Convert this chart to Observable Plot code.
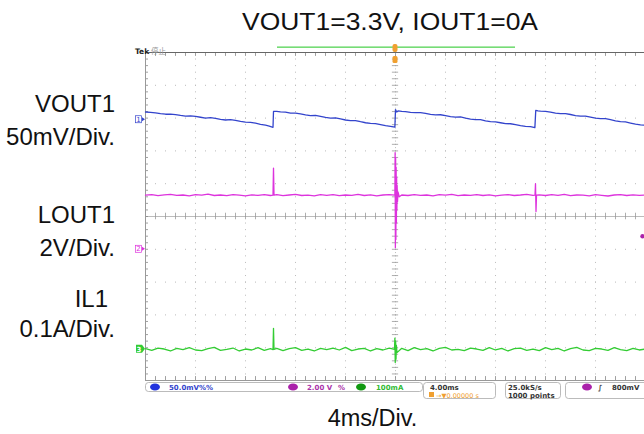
<!DOCTYPE html>
<html><head><meta charset="utf-8">
<script src="https://cdn.jsdelivr.net/npm/d3@7"></script>
<script src="https://cdn.jsdelivr.net/npm/@observablehq/plot@0.6"></script>
<style>
html,body{margin:0;padding:0;background:#fff;overflow:hidden;}
#wrap{width:644px;height:434px;overflow:hidden;position:relative;}
#wrap svg{max-width:none !important;}
</style></head><body><div id="wrap"></div>
<script>
// ---- chart text ----
const title = "VOUT1=3.3V, IOUT1=0A";
const timeLabel = "4ms/Div.";
const channelNames = ["VOUT1", "LOUT1", "IL1"];
const channelScales = ["50mV/Div.", "2V/Div.", "0.1A/Div."];
const channelIds = ["1", "2", "3"];
// channel ground marker position (divisions from centre) and units per division
const chOffset = [2.95, -1.0, -4.05];
const chPerDiv = [50, 2, 100];
const chColor = ["#3344cc", "#dd33dd", "#33cc33"];
const triggerLevel = 0.8; // V on channel 2
// ---- traces: [time ms, value] ----
const vout1 = [ // mV relative to channel marker
  [-20,11.8],[-19.6,11.2],[-19.2,10.6],[-18.8,9.4],[-18.4,8.4],[-18.0,8.6],[-17.6,7.9],[-17.2,6.6],[-16.8,5.6],
  [-16.4,5.9],[-16.0,5.0],[-15.6,3.8],[-15.2,2.6],[-14.8,3.1],[-14.4,2.0],[-14.0,0.6],[-13.6,-0.4],[-13.2,0.1],
  [-12.8,-1.0],[-12.4,-2.6],[-12.0,-3.6],[-11.6,-3.9],[-11.2,-5.2],[-10.8,-6.9],[-10.4,-8.3],[-10.1,-9.6],[-9.8,-11.6],
  [-9.76,12.6],[-9.5,12.8],[-9.2,12.0],[-8.8,11.6],[-8.4,10.1],[-8.0,10.2],[-7.6,8.9],[-7.2,7.4],[-6.8,6.4],
  [-6.4,6.6],[-6.0,5.1],[-5.6,3.6],[-5.2,2.6],[-4.8,2.9],[-4.4,1.2],[-4.0,-0.4],[-3.6,-1.5],[-3.2,-1.2],
  [-2.8,-3.0],[-2.4,-4.6],[-2.0,-5.6],[-1.6,-5.9],[-1.2,-7.4],[-0.8,-9.0],[-0.4,-10.2],[-0.05,-11.3],
  [0.0,15.5],[0.1,11.8],[0.2,13.4],[0.5,12.6],[0.8,12.5],[1.2,11.2],[1.6,10.9],[2.0,10.8],[2.4,9.7],[2.8,8.2],
  [3.2,7.4],[3.6,7.6],[4.0,6.3],[4.4,4.8],[4.8,3.9],[5.2,4.2],[5.6,2.4],[6.0,1.0],[6.4,0.1],[6.8,0.3],
  [7.2,-1.8],[7.6,-3.0],[8.0,-3.4],[8.4,-4.6],[8.8,-6.0],[9.2,-6.1],[9.6,-7.5],[10.0,-9.0],[10.4,-10.1],
  [10.8,-10.6],[11.15,-12.0],
  [11.22,14.2],[11.4,13.4],[11.6,13.0],[12.0,12.6],[12.4,11.6],[12.8,10.0],[13.2,9.2],[13.6,9.4],[14.0,8.0],
  [14.4,6.4],[14.8,5.4],[15.2,5.6],[15.6,4.1],[16.0,2.6],[16.4,1.8],[16.8,1.6],[17.2,0.3],[17.6,-1.6],
  [18.0,-3.0],[18.4,-3.4],[18.8,-5.0],[19.2,-6.6],[19.6,-7.8],[20,-8.5]
];
const lout1 = [ // V relative to channel marker
  [-20,3.30],[-19.5,3.33],[-19,3.27],[-18.5,3.32],[-18,3.35],[-17.5,3.29],[-17,3.31],[-16.5,3.26],[-16,3.33],
  [-15.5,3.30],[-15,3.36],[-14.5,3.28],[-14,3.31],[-13.5,3.27],[-13,3.34],[-12.5,3.30],[-12,3.26],[-11.5,3.32],
  [-11,3.29],[-10.5,3.34],[-10,3.28],[-9.8,3.31],[-9.76,4.95],[-9.72,3.30],[-9.5,3.33],[-9,3.27],[-8.5,3.31],
  [-8,3.35],[-7.5,3.28],[-7,3.30],[-6.5,3.26],[-6,3.33],[-5.5,3.29],[-5,3.34],[-4.5,3.27],[-4,3.31],
  [-3.5,3.29],[-3,3.35],[-2.5,3.28],[-2,3.32],[-1.5,3.26],[-1,3.31],[-0.5,3.33],[-0.05,3.30],
  [-0.03,5.9],[-0.01,0.1],[0.01,5.6],[0.03,0.6],[0.05,5.0],[0.07,1.6],[0.09,4.4],[0.11,2.4],[0.13,3.9],
  [0.16,2.9],[0.2,3.5],[0.3,3.2],[0.5,3.31],[1,3.28],[1.5,3.34],[2,3.29],[2.5,3.31],[3,3.26],[3.5,3.33],
  [4,3.30],[4.5,3.35],[5,3.27],[5.5,3.31],[6,3.29],[6.5,3.34],[7,3.28],[7.5,3.32],[8,3.26],[8.5,3.30],
  [9,3.33],[9.5,3.28],[10,3.31],[10.5,3.35],[11,3.29],[11.16,3.30],[11.2,4.0],[11.24,2.3],[11.28,3.30],
  [11.5,3.32],[12,3.28],[12.5,3.33],[13,3.29],[13.5,3.35],[14,3.27],[14.5,3.31],[15,3.30],[15.5,3.26],
  [16,3.33],[16.5,3.29],[17,3.25],[17.5,3.31],[18,3.34],[18.5,3.28],[19,3.32],[19.5,3.29],[20,3.31]
];
const il1 = [ // mA relative to channel marker
  [-20,2],[-19.5,-3],[-19,4],[-18.5,1],[-18,-5],[-17.5,3],[-17,-1],[-16.5,5],[-16,-2],[-15.5,-4],[-15,2],
  [-14.5,6],[-14,-3],[-13.5,0],[-13,4],[-12.5,-5],[-12,1],[-11.5,-2],[-11,5],[-10.5,-3],[-10,2],[-9.8,-1],
  [-9.76,64],[-9.72,0],[-9.5,3],[-9,-4],[-8.5,2],[-8,5],[-7.5,-3],[-7,1],[-6.5,-5],[-6,3],[-5.5,-1],[-5,4],
  [-4.5,-2],[-4,6],[-3.5,-4],[-3,1],[-2.5,3],[-2,-5],[-1.5,2],[-1,-2],[-0.5,4],[-0.08,0],[-0.05,34],
  [-0.02,-40],[0.01,25],[0.04,-30],[0.07,12],[0.12,-10],[0.5,3],[1,-4],[1.5,5],[2,-1],[2.5,2],[3,-5],
  [3.5,3],[4,6],[4.5,-2],[5,0],[5.5,-4],[6,4],[6.5,1],[7,-3],[7.5,5],[8,-2],[8.5,3],[9,-5],[9.5,2],
  [10,4],[10.5,-3],[11,1],[11.5,-4],[12,5],[12.5,-1],[13,3],[13.5,-5],[14,2],[14.5,6],[15,-2],[15.5,-4],
  [16,3],[16.5,1],[17,-3],[17.5,5],[18,-1],[18.5,-4],[19,3],[19.5,-2],[20,1]
];
const traces = [vout1, lout1, il1];

// ---- graticule (4 ms/div horizontally, 10 divisions vertically) ----
const xDivs = d3.range(-16, 17, 4).filter(v => v !== 0);
const yDivs = d3.range(-4, 5, 1).filter(v => v !== 0);
const xMinor = d3.range(-20, 20.01, 0.8);
const yMinor = d3.range(-5, 5.01, 0.2);

const marks = [
  Plot.ruleX(xDivs, {stroke: "#bbb", strokeWidth: 1, strokeDasharray: "1,5.56"}),
  Plot.ruleY(yDivs, {stroke: "#bbb", strokeWidth: 1, strokeDasharray: "1,9"}),
  Plot.ruleY([0], {stroke: "#aaa", strokeWidth: 0.8}),
  Plot.ruleX([0], {stroke: "#aaa", strokeWidth: 0.8, strokeDasharray: "1,2.28"}),
  Plot.ruleX(xMinor, {y1: () => -0.1, y2: () => 0.1, stroke: "#999", strokeWidth: 0.8}),
  Plot.ruleY(yMinor, {x1: () => -0.25, x2: () => 0.25, stroke: "#999", strokeWidth: 0.8}),
  Plot.ruleX(xMinor, {y1: () => 5, y2: () => 4.88, stroke: "#888", strokeWidth: 0.8}),
  Plot.ruleX(xMinor, {y1: () => -5, y2: () => -4.88, stroke: "#888", strokeWidth: 0.8}),
  Plot.ruleY(yMinor, {x1: () => -20, x2: () => -19.76, stroke: "#888", strokeWidth: 0.8}),
  Plot.ruleY([5], {stroke: "#666", strokeWidth: 1}),
  Plot.ruleY([-5], {stroke: "#999", strokeWidth: 1}),
  Plot.ruleX([-20], {stroke: "#999", strokeWidth: 1})
];
traces.forEach((tr, i) => {
  marks.push(Plot.line(tr, {
    x: d => d[0], y: d => chOffset[i] + d[1] / chPerDiv[i],
    stroke: chColor[i], strokeWidth: 1.3, curve: "linear"
  }));
});
marks.push(Plot.dot([triggerLevel], {
  x: () => 20, y: v => chOffset[1] + v / chPerDiv[1], dx: -3, r: 2.2, fill: "#aa22aa", stroke: "none"
}));

const plot = Plot.plot({
  width: 645, height: 434,
  marginLeft: 145, marginRight: 0, marginTop: 52, marginBottom: 54,
  x: {domain: [-20, 20], axis: null},
  y: {domain: [-5, 5], axis: null},
  style: {background: "white", maxWidth: "none"},
  marks
});
document.getElementById("wrap").appendChild(plot);

// ---- overlay text & scope chrome ----
const svg = d3.select(plot);
const ys = plot.scale("y"), xs = plot.scale("x");
const font = "'Liberation Sans', Arial, sans-serif";
const small = "'DejaVu Sans', sans-serif";
function bigText(x, y, anchor, size, str, len) {
  const t = svg.append("text").attr("x", x).attr("y", y).attr("text-anchor", anchor)
    .attr("font-family", font).attr("font-size", size).attr("fill", "#111").text(str);
  if (len) t.attr("textLength", len).attr("lengthAdjust", "spacingAndGlyphs");
  return t;
}
bigText(390, 30, "middle", 24, title, 296);
bigText(372.5, 426, "middle", 23.5, timeLabel);
const labelBase = [[112, 145], [223, 256], [307, 337]];
const labelRight = [[115, 115], [115, 115], [108, 115]];
channelNames.forEach((n, i) => {
  bigText(labelRight[i][0], labelBase[i][0], "end", 24, n);
  bigText(labelRight[i][1], labelBase[i][1], "end", 24, channelScales[i]);
});

// channel ground markers
channelIds.forEach((id, i) => {
  const y = ys.apply(chOffset[i]);
  const g = svg.append("g").attr("text-anchor", "middle");
  if (i === 2) {
    g.append("path").attr("d", `M${136},${y-4}h6l3,4l-3,4h-6z`).attr("fill", chColor[i]);
    g.append("text").attr("x", 139).attr("y", y + 3).attr("font-family", small).attr("font-size", 7)
      .attr("font-weight", "bold").attr("fill", "#fff").text(id);
  } else {
    g.append("rect").attr("x", 135.5).attr("y", y - 3.5).attr("width", 6).attr("height", 7)
      .attr("fill", "none").attr("stroke", chColor[i]).attr("stroke-width", 0.7);
    g.append("text").attr("x", 138.5).attr("y", y + 2.5).attr("font-family", small).attr("font-size", 7)
      .attr("fill", chColor[i]).text(id);
    g.append("path").attr("d", `M${142},${y-2}l3,2l-3,2z`).attr("fill", chColor[i]);
  }
});

// top status
const statusG = svg.append("g").attr("text-anchor", "start");
statusG.append("text").attr("x", 135).attr("y", 54).attr("font-family", small).attr("font-size", 7.5)
  .attr("font-weight", "bold").attr("fill", "#222").text("Tek");
statusG.append("text").attr("x", 151).attr("y", 54).attr("font-family", "'Noto Sans CJK SC', sans-serif")
  .attr("font-size", 7.5).attr("fill", "#999").text("停止");
svg.append("rect").attr("x", 277).attr("y", 46.5).attr("width", 238).attr("height", 1.3)
  .attr("fill", "#55d455");
const tx = xs.apply(0);
svg.append("rect").attr("x", tx - 2.5).attr("y", 44).attr("width", 5).attr("height", 8).attr("rx", 2)
  .attr("fill", "#f0a030");
svg.append("rect").attr("x", tx - 2.5).attr("y", 56).attr("width", 5).attr("height", 7).attr("rx", 1.5)
  .attr("fill", "#f0a030");

// bottom info bar
const bar = svg.append("g").attr("font-family", small).attr("font-size", 7).attr("font-weight", "bold")
  .attr("text-anchor", "start");
bar.append("rect").attr("x", 145.5).attr("y", 382.5).attr("width", 277).attr("height", 9).attr("rx", 3)
  .attr("fill", "#fff").attr("stroke", "#aaa").attr("stroke-width", 0.8);
bar.append("ellipse").attr("cx", 155).attr("cy", 387).attr("rx", 5).attr("ry", 3.5).attr("fill", "#2233dd");
bar.append("text").attr("x", 169).attr("y", 390).attr("fill", "#3344cc").text("50.0mV%%");
bar.append("ellipse").attr("cx", 293).attr("cy", 387).attr("rx", 5).attr("ry", 3.5).attr("fill", "#aa22aa");
bar.append("text").attr("x", 307).attr("y", 390).attr("fill", "#aa33aa").text("2.00 V");
bar.append("text").attr("x", 338).attr("y", 390).attr("fill", "#aa33aa").text("%");
bar.append("ellipse").attr("cx", 361).attr("cy", 387).attr("rx", 5).attr("ry", 3.5).attr("fill", "#119911");
bar.append("text").attr("x", 376).attr("y", 390).attr("fill", "#33bb33").text("100mA");
[[423.5, 72], [505.5, 55], [565.5, 90]].forEach(([x, w]) => {
  bar.append("rect").attr("x", x).attr("y", 382.5).attr("width", w).attr("height", 16).attr("rx", 3)
    .attr("fill", "#fff").attr("stroke", "#aaa").attr("stroke-width", 0.8);
});
bar.append("text").attr("x", 430).attr("y", 390).attr("fill", "#333").text("4.00ms");
bar.append("rect").attr("x", 429).attr("y", 392).attr("width", 5).attr("height", 5).attr("fill", "#f0a030");
bar.append("text").attr("x", 436).attr("y", 397.5).attr("fill", "#f0a030").attr("font-weight", "normal")
  .attr("font-size", 6.5).text("→▼0.00000 s");
bar.append("text").attr("x", 508).attr("y", 390).attr("fill", "#333").text("25.0kS/s");
bar.append("text").attr("x", 508).attr("y", 397.5).attr("fill", "#333").text("1000 points");
bar.append("ellipse").attr("cx", 587).attr("cy", 387).attr("rx", 5).attr("ry", 3.5).attr("fill", "#aa22aa");
bar.append("text").attr("x", 598).attr("y", 390).attr("fill", "#333").text("∫");
bar.append("text").attr("x", 612).attr("y", 390).attr("fill", "#333").text("800mV");
</script>
</body></html>
